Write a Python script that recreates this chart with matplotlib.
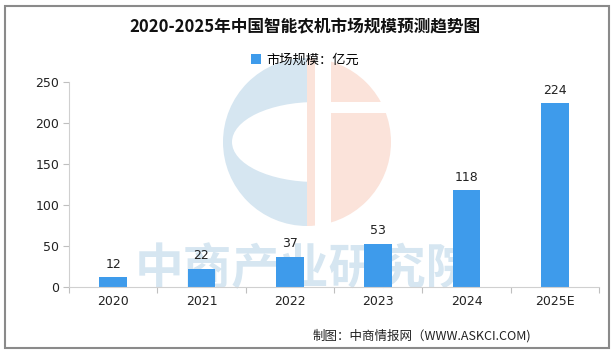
import matplotlib
matplotlib.use("Agg")
import matplotlib.pyplot as plt
from matplotlib.patches import Wedge, Ellipse, Rectangle
import numpy as np

categories = ["2020", "2021", "2022", "2023", "2024", "2025E"]
values = [12, 22, 37, 53, 118, 224]
yticks = [0, 50, 100, 150, 200, 250]

title = "2020-2025年中国智能农机市场规模预测趋势图"
legend_label = "市场规模：亿元"
footer = "制图：中商情报网（WWW.ASKCI.COM)"
watermark = "中商产业研究院"

CJK = ["Noto Sans CJK SC", "DejaVu Sans"]
plt.rcParams['font.family'] = CJK

W, H = 615, 355
fig = plt.figure(figsize=(W / 100, H / 100), dpi=100)

# background decoration axes (watermark)
bg = fig.add_axes([0, 0, 1, 1], zorder=0)
bg.set_xlim(0, W)
bg.set_ylim(H, 0)
bg.axis("off")
blue_wm = "#D6E6F1"
pink_wm = "#FBE3DA"
cx, cy, r = 307, 142, 84
bg.add_patch(Wedge((cx, cy), r, 90, 270, color=blue_wm, lw=0))
bg.add_patch(Ellipse((316, 142), 168, 80, color="white", lw=0))
bg.add_patch(Wedge((cx, cy), r, -90, 90, color=pink_wm, lw=0))
bg.add_patch(Rectangle((315, 50), 16, 190, color="white", lw=0))
bg.add_patch(Rectangle((331, 102), 70, 11, color="white", lw=0))
bg.text(305, 270, watermark, ha="center", va="center", fontsize=35,
        color="#D6E6F1", fontweight="bold")

# border
bg.add_patch(Rectangle((5, 6), 604, 342, fill=False, ec="#8A8A8A", lw=1.5))

ax = fig.add_axes([69 / W, 1 - 287 / H, (599 - 69) / W, (287 - 82) / H], zorder=1)
ax.patch.set_alpha(0)
x = np.arange(len(categories))
bar_color = "#3E9BEB"
bars = ax.bar(x, values, width=0.31, color=bar_color, zorder=2, label=legend_label)
for xi, v in zip(x, values):
    ax.text(xi, v + 8, str(v), ha="center", va="bottom", fontsize=9,
            color="#222222", family=["DejaVu Sans"], zorder=3)

ax.set_xlim(-0.5, len(categories) - 0.5)
ax.set_ylim(0, 250)
ax.set_yticks(yticks)
ax.set_yticklabels([str(t) for t in yticks], family=["DejaVu Sans"], fontsize=9, color="#222222")
ax.set_xticks(x)
ax.set_xticklabels(categories, family=["DejaVu Sans"], fontsize=9, color="#222222")
ax.set_xticks(np.arange(-0.5, len(categories), 1.0), minor=True)
ax.tick_params(axis="x", which="major", length=0, pad=6)
ax.tick_params(axis="x", which="minor", length=4, color="#BFBFBF", width=0.8)
ax.tick_params(axis="y", length=4, color="#BFBFBF", width=0.8, pad=3)
for s in ["top", "right"]:
    ax.spines[s].set_visible(False)
for s in ["left", "bottom"]:
    ax.spines[s].set_color("#D0D0D0")
    ax.spines[s].set_linewidth(0.8)

fig.text(305 / W, 1 - 27 / H, title, ha="center", va="center", fontsize=12,
         fontweight="bold", color="#111111")
leg = fig.legend(loc="center", bbox_to_anchor=(305 / W, 1 - 60 / H), frameon=False,
                 fontsize=9.5, handlelength=0.7, handleheight=0.7, handletextpad=0.4)
fig.text(313 / W, 1 - 336 / H, footer, ha="left", va="center", fontsize=9, color="#222222")

fig.savefig("out.png", dpi=100)
